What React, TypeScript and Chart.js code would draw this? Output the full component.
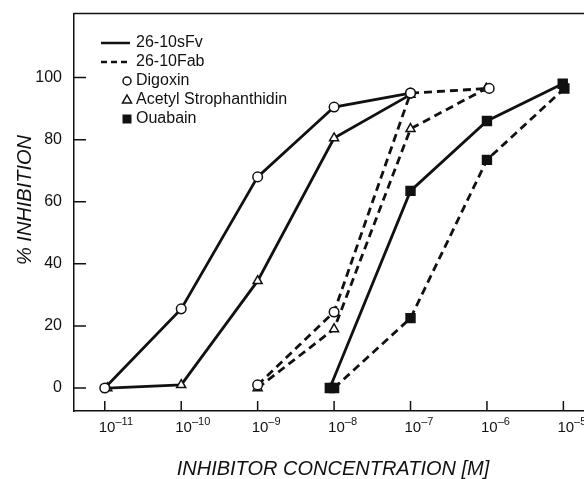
import React, { useEffect, useRef } from "react";
import { Chart, registerables } from "chart.js";

Chart.register(...registerables);

// ---- data ----
const xTickExponents = [-11, -10, -9, -8, -7, -6, -5];
const yTickValues = [0, 20, 40, 60, 80, 100];

const digoxinSfvX = [1e-11, 1e-10, 1e-9, 1e-8, 1e-7];
const digoxinSfvY = [0, 25.5, 68, 90.5, 95];

const acetylSfvX = [1.08e-11, 1e-10, 1e-9, 1e-8, 1e-7];
const acetylSfvY = [0, 1, 34.5, 80.5, 94.5];

const digoxinFabX = [1e-9, 1e-8, 1e-7, 1.07e-6];
const digoxinFabY = [1, 24.5, 95, 96.5];

const acetylFabX = [1e-9, 1e-8, 1e-7, 0.98e-6];
const acetylFabY = [0, 19, 83.5, 96.5];

const ouabainSfvX = [0.88e-8, 1e-7, 1e-6, 0.98e-5];
const ouabainSfvY = [0, 63.5, 86, 98];

const ouabainFabX = [1e-8, 1e-7, 1e-6, 1.03e-5];
const ouabainFabY = [0, 22.5, 73.5, 96.5];

const legendLines = ["26-10sFv", "26-10Fab"];
const legendMarkers = ["Digoxin", "Acetyl Strophanthidin", "Ouabain"];
const xTitle = "INHIBITOR CONCENTRATION [M]";
const yTitle = "% INHIBITION";

const INK = "#111";
const FONT = "'Liberation Sans', 'DejaVu Sans', sans-serif";

function pts(xs: number[], ys: number[]) {
  return xs.map((x, i) => ({ x, y: ys[i] }));
}

function drawMarker(ctx: CanvasRenderingContext2D, kind: string, x: number, y: number) {
  ctx.save();
  ctx.lineWidth = 1.5;
  ctx.strokeStyle = INK;
  ctx.setLineDash([]);
  ctx.beginPath();
  if (kind === "circle") {
    ctx.fillStyle = "#fff";
    ctx.arc(x, y, 4, 0, Math.PI * 2);
    ctx.fill();
    ctx.stroke();
  } else if (kind === "triangle") {
    ctx.fillStyle = "#fff";
    ctx.moveTo(x, y - 5);
    ctx.lineTo(x + 4.5, y + 3);
    ctx.lineTo(x - 4.5, y + 3);
    ctx.closePath();
    ctx.fill();
    ctx.stroke();
  } else {
    ctx.fillStyle = INK;
    ctx.rect(x - 4.5, y - 4.5, 9, 9);
    ctx.fill();
  }
  ctx.restore();
}

const decorPlugin = {
  id: "decor",
  afterDraw(chart: any) {
    const { ctx, chartArea: a, scales } = chart;
    const xs = scales.x;
    const ys = scales.y;
    ctx.save();
    ctx.strokeStyle = INK;
    ctx.lineWidth = 1.5;
    ctx.beginPath();
    ctx.moveTo(a.left, a.top);
    ctx.lineTo(a.right, a.top);
    // inward tick marks
    xTickExponents.forEach((e) => {
      const px = xs.getPixelForValue(Math.pow(10, e));
      ctx.moveTo(px, a.bottom);
      ctx.lineTo(px, a.bottom - 10);
    });
    yTickValues.forEach((v) => {
      const py = ys.getPixelForValue(v);
      ctx.moveTo(a.left, py);
      ctx.lineTo(a.left + 12, py);
    });
    ctx.stroke();

    // x tick labels: 10 with superscript exponent
    ctx.fillStyle = INK;
    ctx.textBaseline = "alphabetic";
    ctx.textAlign = "left";
    xTickExponents.forEach((e) => {
      const px = xs.getPixelForValue(Math.pow(10, e));
      ctx.font = `15px ${FONT}`;
      const base = "10";
      const w = ctx.measureText(base).width;
      const x0 = px - 6;
      ctx.fillText(base, x0, 432);
      ctx.font = `11px ${FONT}`;
      ctx.fillText(String(e).replace("-", "\u2013"), x0 + w, 425);
    });

    // legend
    ctx.fillStyle = INK;
    ctx.font = `16px ${FONT}`;
    ctx.textBaseline = "middle";
    ctx.textAlign = "left";
    const rowY = [43, 62, 81, 100, 119];
    ctx.lineWidth = 2.5;
    ctx.beginPath();
    ctx.moveTo(101, rowY[0]);
    ctx.lineTo(130, rowY[0]);
    ctx.stroke();
    ctx.setLineDash([6, 4]);
    ctx.beginPath();
    ctx.moveTo(101, rowY[1]);
    ctx.lineTo(131, rowY[1]);
    ctx.stroke();
    ctx.setLineDash([]);
    ctx.fillText(legendLines[0], 136, rowY[0]);
    ctx.fillText(legendLines[1], 136, rowY[1]);
    const kinds = ["circle", "triangle", "square"];
    legendMarkers.forEach((t, i) => {
      drawMarker(ctx, kinds[i], 127, rowY[2 + i]);
      ctx.fillStyle = INK;
      ctx.fillText(t, 136, rowY[2 + i]);
    });

    // axis titles
    ctx.font = `italic 20px ${FONT}`;
    ctx.textAlign = "center";
    ctx.textBaseline = "middle";
    ctx.fillText(xTitle, 333, 469);
    ctx.save();
    ctx.translate(25, 200);
    ctx.rotate(-Math.PI / 2);
    ctx.fillText(yTitle, 0, 0);
    ctx.restore();
    ctx.restore();
  },
};

function lineDs(label: string, xs: number[], ys: number[], style: string, dashed: boolean) {
  const filled = style === "rect";
  return {
    label,
    data: pts(xs, ys),
    borderColor: INK,
    borderWidth: 2.8,
    borderDash: dashed ? [8, 5] : [],
    tension: 0,
    fill: false,
    pointStyle: style,
    pointRadius: style === "rect" ? 6.3 : style === "triangle" ? 5.2 : 4.8,
    pointBackgroundColor: filled ? INK : "#fff",
    pointBorderColor: INK,
    pointBorderWidth: 1.5,
  };
}

export default function App() {
  const ref = useRef<HTMLCanvasElement | null>(null);
  useEffect(() => {
    document.body.style.margin = "0";
    const canvas = ref.current!;
    const chart = new Chart(canvas, {
      type: "line",
      data: {
        datasets: [
          lineDs("Digoxin 26-10sFv", digoxinSfvX, digoxinSfvY, "circle", false),
          lineDs("Acetyl Strophanthidin 26-10sFv", acetylSfvX, acetylSfvY, "triangle", false),
          lineDs("Digoxin 26-10Fab", digoxinFabX, digoxinFabY, "circle", true),
          lineDs("Acetyl Strophanthidin 26-10Fab", acetylFabX, acetylFabY, "triangle", true),
          lineDs("Ouabain 26-10sFv", ouabainSfvX, ouabainSfvY, "rect", false),
          lineDs("Ouabain 26-10Fab", ouabainFabX, ouabainFabY, "rect", true),
        ] as any,
      },
      options: {
        responsive: false,
        animation: false,
        layout: { padding: { left: 0, top: 13, right: 5, bottom: 0 } },
        plugins: { legend: { display: false }, tooltip: { enabled: false } },
        scales: {
          x: {
            type: "logarithmic",
            min: Math.pow(10, -11.4026),
            max: Math.pow(10, -4.623),
            grid: { display: false },
            border: { display: true, color: INK, width: 1.5 },
            afterBuildTicks: (s: any) => {
              s.ticks = xTickExponents.map((e) => ({ value: Math.pow(10, e) }));
            },
            afterFit: (s: any) => {
              s.height = 68;
              s.paddingLeft = 0;
              s.paddingRight = 0;
            },
            ticks: { display: false },
          },
          y: {
            type: "linear",
            min: -7.4,
            max: 120.6,
            grid: { display: false },
            border: { display: true, color: INK, width: 1.5 },
            afterBuildTicks: (s: any) => {
              s.ticks = yTickValues.map((v) => ({ value: v }));
            },
            afterFit: (s: any) => {
              s.width = 74;
            },
            ticks: {
              padding: 4,
              color: INK,
              font: { size: 16, family: FONT },
            },
          },
        },
      },
      plugins: [decorPlugin],
    });
    return () => chart.destroy();
  }, []);
  return (
    <div style={{ position: "relative", width: 584, height: 479, overflow: "hidden", background: "#fff" }}>
      <canvas ref={ref} width={600} height={479} style={{ display: "block", width: 600, height: 479 }} />
    </div>
  );
}
